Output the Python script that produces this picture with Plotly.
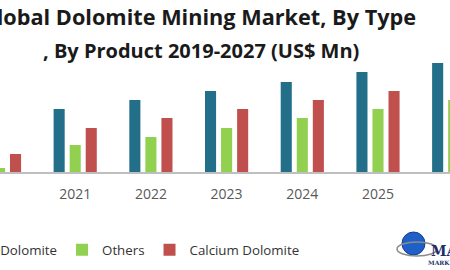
import plotly.graph_objects as go

years = [2020, 2021, 2022, 2023, 2024, 2025, 2026]
tick_labels = ["2020", "2021", "2022", "2023", "2024", "2025", "2026"]
magnesium = [54, 63, 72, 81, 90, 100, 109]
others = [4, 27, 35, 44, 54, 63, 72]
calcium = [18, 44, 54, 63, 72, 81, 90]

series_names = ["Magnesium Dolomite", "Others", "Calcium Dolomite"]
colors = ["#236f89", "#92d050", "#c0504d"]

W, H = 450, 270
PLOT_BOTTOM = 172  # px from top

fig = go.Figure()
for name, vals, col in zip(series_names, [magnesium, others, calcium], colors):
    fig.add_trace(go.Bar(x=years, y=vals, name=name, marker=dict(color=col, line=dict(width=0))))

px_per_year = 75.7
x0 = 2020 + 0.5 / px_per_year
fig.update_layout(
    width=W, height=H,
    margin=dict(l=0, r=0, t=0, b=H - PLOT_BOTTOM, autoexpand=False),
    paper_bgcolor="white", plot_bgcolor="white",
    barmode="group", bargap=0.364, bargroupgap=0.31,
    showlegend=True,
    legend=dict(orientation="h", x=-0.257, xanchor="left", y=-78 / PLOT_BOTTOM, yanchor="middle",
                font=dict(family="Open Sans", size=13.3, color="#333333"),
                bgcolor="rgba(0,0,0,0)", traceorder="normal"),
    xaxis=dict(range=[x0, x0 + W / px_per_year], tickvals=years, ticktext=tick_labels,
               showgrid=False, zeroline=False, showline=True, linecolor="#bfbfbf", linewidth=1.5,
               ticks="", ticklabelstandoff=8,
               tickfont=dict(family="Open Sans", size=14, color="#595959")),
    yaxis=dict(range=[0, PLOT_BOTTOM], visible=False, showgrid=False, zeroline=False),
    font=dict(family="Open Sans"),
)

fig.add_annotation(text="<b>Global Dolomite Mining Market, By Type</b>", xref="paper", yref="paper",
                   x=198 / W, y=1 - 17 / PLOT_BOTTOM, xanchor="center", yanchor="middle",
                   showarrow=False, font=dict(family="Open Sans", size=21.7, color="#1a1a1a"))
fig.add_annotation(text="<b>, By Product 2019-2027 (US$ Mn)</b>", xref="paper", yref="paper",
                   x=201 / W, y=1 - 50 / PLOT_BOTTOM, xanchor="center", yanchor="middle",
                   showarrow=False, font=dict(family="Open Sans", size=20, color="#1a1a1a"))

# logo (globe + text)
def py(yp):
    return 1 - yp / PLOT_BOTTOM
fig.add_shape(type="circle", xref="paper", yref="paper", x0=402 / W, x1=425 / W, y0=py(255), y1=py(232),
              fillcolor="#1f5fc8", line=dict(color="#123f8f", width=1))
fig.add_shape(type="circle", xref="paper", yref="paper", x0=397 / W, x1=437 / W, y0=py(256), y1=py(242),
              fillcolor="rgba(0,0,0,0)", line=dict(color="#8c8c8c", width=1.5))
fig.add_annotation(text="<b>MA</b>", xref="paper", yref="paper", x=429 / W, y=py(251), xanchor="left",
                   yanchor="middle", showarrow=False, font=dict(family="DejaVu Serif", size=14, color="#1b2f6b"))
fig.add_annotation(text="<b>MARK</b>", xref="paper", yref="paper", x=426 / W, y=py(262), xanchor="left",
                   yanchor="middle", showarrow=False, font=dict(family="DejaVu Serif", size=6, color="#1b2f6b"))

fig.write_html("out.html")
